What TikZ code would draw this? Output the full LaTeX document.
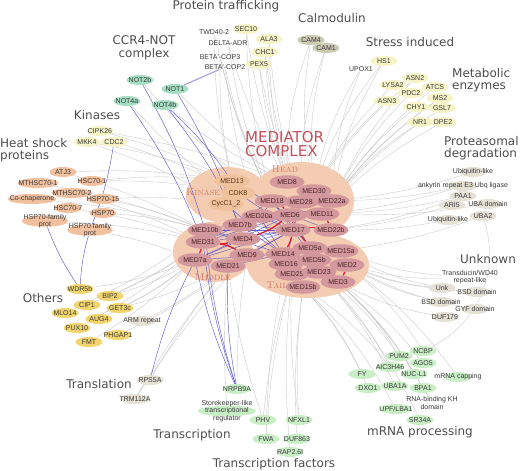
\documentclass[tikz,border=0pt]{standalone}
\usepackage{fontspec}
\newfontfamily\libsans{Liberation Sans}
\newfontfamily\dejasans{DejaVu Sans}
\usepackage{tikz}
\usetikzlibrary{shapes.geometric,backgrounds}
\definecolor{trafyel}{HTML}{F6F3C6}
\definecolor{calmgray}{HTML}{CDCAB3}
\definecolor{ccrmint}{HTML}{A6DEC3}
\definecolor{hsppeach}{HTML}{F1C09F}
\definecolor{othgold}{HTML}{F2D46F}
\definecolor{miscbeige}{HTML}{E5E1D5}
\definecolor{rnagreen}{HTML}{C9EEC6}
\definecolor{zonepeach}{HTML}{F4CCB1}
\definecolor{medrose}{HTML}{D3989D}
\definecolor{medtxt}{HTML}{4A2428}
\definecolor{kinpeach}{HTML}{EFC29C}
\definecolor{kintxt}{HTML}{5A3512}
\definecolor{ttlgray}{HTML}{4D4D4D}
\definecolor{medred}{HTML}{C4505C}
\definecolor{zonetxt}{HTML}{CF7A6A}
\definecolor{edgegray}{HTML}{C6C6C6}
\definecolor{bluelink}{HTML}{5C5CCF}
\definecolor{redlink}{HTML}{D91E3A}
\definecolor{paleblue}{HTML}{A9A3E3}
\definecolor{labeltxt}{HTML}{383838}
\newcommand{\lblfnt}{\libsans\fontsize{7pt}{7.6pt}\selectfont}
\newcommand{\wideovr}[1]{\makebox[22pt]{#1}}
\pgfdeclarelayer{zones}
\pgfdeclarelayer{links}
\pgfsetlayers{background,zones,links,main}
\tikzset{
  pn/.style={ellipse, inner xsep=-5pt, inner ysep=0pt, minimum width=27pt,
    minimum height=10pt, font=\lblfnt, text=labeltxt},
  traf/.style={pn, fill=trafyel},
  calm/.style={pn, fill=calmgray},
  ccr/.style={pn, fill=ccrmint},
  hsp/.style={pn, fill=hsppeach},
  oth/.style={pn, fill=othgold},
  misc/.style={pn, fill=miscbeige},
  rna/.style={pn, fill=rnagreen},
  bare/.style={inner sep=0pt, font=\lblfnt, text=labeltxt, align=center},
  med/.style={ellipse, inner xsep=-4pt, inner ysep=0pt, minimum width=35pt,
    minimum height=13.5pt, fill=medrose, font=\lblfnt, text=medtxt},
  kin/.style={med, fill=kinpeach, text=kintxt},
  zone/.style={ellipse, fill=zonepeach, inner sep=0pt},
  zlbl/.style={font=\fontsize{10pt}{11pt}\selectfont\scshape, text=zonetxt},
  ttl/.style={font=\dejasans\fontsize{12pt}{12.5pt}\selectfont, text=ttlgray,
    inner sep=0pt},
  mtl/.style={font=\dejasans\fontsize{15pt}{14pt}\selectfont, text=medred,
    inner sep=0pt},
  gedge/.style={draw=edgegray, line width=0.35pt},
  bedge/.style={draw=bluelink, line width=0.45pt},
  redge/.style={draw=redlink, line width=1.3pt},
}

\begin{document}
\begin{tikzpicture}[x=1pt, y=1pt]
\useasboundingbox (0,0) rectangle (520,-471);
% group titles
\node[ttl] (tptraf) at (226,-6) {Protein trafficking};
\node[ttl] (tcalm) at (332,-18) {Calmodulin};
\node[ttl, align=center] (tccr) at (144,-48) {CCR4-NOT\\complex};
\node[ttl] (tstress) at (410,-42) {Stress induced};
\node[ttl, align=left, anchor=west] (tmeta) at (452,-80) {Metabolic\\enzymes};
\node[ttl] (tkin) at (97,-115) {Kinases};
\node[ttl, align=left, anchor=west] (thsp) at (0,-150) {Heat shock\\proteins};
\node[ttl, align=left, anchor=west] (tprot) at (444,-148) {Proteasomal\\degradation};
\node[ttl] (toth) at (43,-298) {Others};
\node[ttl] (tunk) at (488,-259) {Unknown};
\node[ttl] (ttrl) at (99,-384) {Translation};
\node[ttl] (ttrc) at (192,-435) {Transcription};
\node[ttl] (ttf) at (274,-464) {Transcription factors};
\node[ttl] (trna) at (420,-432) {mRNA processing};
\node[mtl, align=left, anchor=west] (tmed) at (245,-144) {MEDIATOR\\COMPLEX};
% complex zones
\begin{pgfonlayer}{zones}
\node[zone, minimum width=82pt, minimum height=56pt] (kinz) at (227,-195) {};
\node[zone, minimum width=104pt, minimum height=78pt] (headz) at (302,-201) {};
\node[zone, minimum width=80pt, minimum height=60pt] (midz) at (213,-252) {};
\node[zone, minimum width=122pt, minimum height=66pt] (tailz) at (308,-265) {};
\end{pgfonlayer}
\node[zlbl] (kinl) at (203,-192) {Kinase};
\node[zlbl] (headl) at (285,-169) {Head};
\node[zlbl] (midl) at (213,-277) {Middle};
\node[zlbl] (taill) at (277,-285) {Tail};
% mediator subunits
\node[kin] (med13) at (232,-181) {MED13};
\node[kin] (cdk8) at (238,-193) {CDK8};
\node[kin] (cycc) at (226,-204) {CycC1\_2};
\node[med] (med8) at (287,-182) {MED8};
\node[med] (med30) at (314,-191) {MED30};
\node[med] (med18) at (272,-201) {MED18};
\node[med] (med28) at (301,-202) {MED28};
\node[med] (med22a) at (332,-201) {MED22a};
\node[med] (med20a) at (259,-216) {MED20a};
\node[med] (med6) at (290,-215) {MED6};
\node[med] (med11) at (322,-214) {MED11};
\node[med] (med7b) at (240,-225) {MED7b};
\node[med] (med10b) at (205,-230) {MED10b};
\node[med] (med17) at (293,-230) {MED17};
\node[med] (med22b) at (331,-230) {MED22b};
\node[med] (med31) at (203,-242) {MED31};
\node[med] (med4) at (243,-239) {MED4};
\node[med] (med5a) at (310,-248) {MED5a};
\node[med] (med15a) at (341,-251) {MED15a};
\node[med] (med14) at (283,-254) {MED14};
\node[med] (med9) at (247,-255) {MED9};
\node[med] (med7a) at (195,-260) {MED7a};
\node[med] (med21) at (228,-266) {MED21};
\node[med] (med16) at (286,-264) {MED16};
\node[med] (med5b) at (314,-260) {MED5b};
\node[med] (med2) at (347,-265) {MED2};
\node[med] (med25) at (292,-274) {MED25};
\node[med] (med23) at (319,-272) {MED23};
\node[med] (med3) at (338,-282) {MED3};
\node[med] (med15b) at (303,-287) {MED15b};
% protein trafficking
\node[bare] (twd) at (214,-32) {TWD40-2};
\node[traf] (sec) at (246,-29) {SEC10};
\node[traf] (ala) at (269,-39) {ALA3};
\node[bare] (delta) at (228,-43) {DELTA-ADR};
\node[traf] (chc) at (265,-52) {CHC1};
\node[bare] (cop3) at (220,-57) {BETA\textquotesingle-COP3};
\node[traf] (pex) at (259,-64) {PEX5};
\node[bare] (cop2) at (225,-67) {BETA\textquotesingle-COP2};
% calmodulin
\node[calm] (cam4) at (311,-40) {CAM4};
\node[calm] (cam1) at (326,-48) {CAM1};
% ccr4-not
\node[ccr] (not2b) at (140,-80) {NOT2b};
\node[ccr] (not1) at (175,-89) {NOT1};
\node[ccr] (not4a) at (127,-101) {NOT4a};
\node[ccr] (not4b) at (165,-105) {NOT4b};
% stress induced
\node[traf] (hs1) at (384,-61) {HS1};
\node[bare] (upox) at (361,-69) {UPOX1};
% metabolic enzymes
\node[traf] (asn2) at (415,-78) {ASN2};
\node[traf] (lysa) at (393,-85) {LYSA2};
\node[traf] (atcs) at (435,-87) {ATCS};
\node[traf] (pdc) at (411,-93) {PDC2};
\node[traf] (ms2) at (440,-98) {MS2};
\node[traf] (asn3) at (387,-101) {ASN3};
\node[traf] (chy) at (416,-107) {CHY1};
\node[traf] (gsl) at (442,-108) {GSL7};
\node[traf] (nr1) at (420,-122) {NR1};
\node[traf] (dpe) at (443,-122) {DPE2};
% kinases
\node[traf] (cipk) at (100,-131) {CIPK26};
\node[traf] (mkk) at (87,-142) {MKK4};
\node[traf] (cdc) at (114,-142) {CDC2};
% heat shock proteins
\node[hsp] (atj) at (63,-172) {ATJ3};
\node[hsp] (mths1) at (38,-183) {MTHSC70-1};
\node[hsp] (hsc1) at (92,-181) {HSC70-1};
\node[hsp] (mths2) at (72,-193) {MTHSC70-2};
\node[hsp] (cochap) at (32,-199) {Co-chaperone};
\node[hsp] (hsp15) at (103,-199) {HSP70-15};
\node[hsp] (hsc7) at (68,-208) {HSC70-7};
\node[hsp] (hsp70) at (103,-213) {HSP70};
\node[hsp, align=center, inner ysep=-3pt] (hspfa) at (45,-221) {HSP70-family\\prot};
\node[hsp, align=center, inner ysep=-3pt] (hspfb) at (90,-230) {HSP70 family\\prot};
% others
\node[oth] (wdr) at (80,-289) {WDR5b};
\node[oth] (bip) at (110,-296) {BIP2};
\node[oth] (cip) at (87,-305) {CIP1};
\node[oth] (get) at (120,-308) {GET3c};
\node[oth] (mlo) at (65,-313) {MLO14};
\node[oth] (aug) at (99,-319) {AUG4};
\node[misc] (arm) at (142,-321) {\wideovr{ARM repeat}};
\node[oth] (pux) at (77,-328) {PUX10};
\node[oth] (phgap) at (118,-335) {PHGAP1};
\node[oth] (fmt) at (89,-342) {FMT};
% translation
\node[misc] (rps) at (150,-380) {RPS5A};
\node[misc] (trm) at (135,-399) {TRM112A};
% transcription
\node[rna] (nrpb) at (237,-389) {NRPB9A};
\node[rna, align=center, inner ysep=-7pt] (skl) at (227,-411) {Storekeeper-like\\transcriptional\\regulator};
% transcription factors
\node[rna] (phv) at (263,-420) {PHV};
\node[rna] (nfxl) at (299,-420) {NFXL1};
\node[rna] (fwa) at (266,-439) {FWA};
\node[rna] (duf863) at (297,-439) {DUF863};
\node[rna] (rap) at (290,-452) {RAP2.6l};
% mrna processing
\node[rna] (ncbp) at (423,-351) {NCBP};
\node[rna] (pum) at (399,-356) {PUM2};
\node[rna] (ago) at (423,-363) {AGO5};
\node[rna] (aic) at (390,-367) {AIC3H46};
\node[rna] (fy) at (362,-374) {FY};
\node[rna] (nuc) at (414,-374) {NUC-L1};
\node[rna] (cap) at (458,-377) {\wideovr{mRNA capping}};
\node[rna] (dxo) at (368,-388) {DXO1};
\node[rna] (uba1a) at (395,-386) {UBA1A};
\node[rna] (bpa) at (423,-388) {BPA1};
\node[bare] (kh) at (432,-403) {RNA-binding KH\\domain};
\node[rna] (upf) at (396,-409) {UPF/LBA1};
\node[rna] (sr34) at (420,-420) {SR34A};
% unknown
\node[bare] (tdwd) at (470,-277) {Transducin/WD40\\repeat-like};
\node[misc] (unk) at (442,-288) {Unk};
\node[misc] (bsd1) at (477,-292) {\wideovr{BSD domain}};
\node[misc] (bsd2) at (441,-302) {\wideovr{BSD domain}};
\node[misc] (gyf) at (475,-309) {\wideovr{GYF domain}};
\node[misc] (duf179) at (445,-317) {DUF179};
% proteasomal degradation
\node[misc] (ubl1) at (473,-172) {\wideovr{Ubiquitin-like}};
\node[misc] (ank) at (463,-186) {\wideovr{ankyrin repeat E3 Ubq ligase}};
\node[misc] (paa) at (463,-196) {PAA1};
\node[misc] (ari) at (452,-205) {ARI5};
\node[misc] (ubad) at (488,-204) {\wideovr{UBA domain}};
\node[misc] (ubl2) at (448,-220) {\wideovr{Ubiquitin-like}};
\node[misc] (uba2) at (483,-216) {UBA2};
% grey interactions
\begin{pgfonlayer}{background}
\foreach \a/\b in {twd/med18, twd/med13, sec/med8, sec/med18, ala/med28, ala/med8,
    delta/med18, delta/med8, chc/med8, chc/med28, cop3/med13, cop3/med18,
    pex/med28, pex/med8, cop2/med18, cop2/med20a}
  \draw[gedge] (\a) to[bend right=6] (\b);
\foreach \a/\b in {cam4/med8, cam4/med30, cam1/med30, cam1/med28, hs1/med30,
    hs1/med22a, upox/med22a, upox/med30}
  \draw[gedge] (\a) to[bend right=10] (\b);
\foreach \a/\b in {asn2/med22a, lysa/med30, atcs/med22a, pdc/med22a, ms2/med11,
    asn3/med30, chy/med22a, gsl/med11, nr1/med22a, dpe/med11, asn2/med30, ms2/med22a}
  \draw[gedge] (\a) to[bend right=8] (\b);
\foreach \a/\b in {ubl1/med22a, ank/med11, paa/med22b, ari/med22b, ubad/med11,
    ubl2/med22b, uba2/med15a, ank/med22a, paa/med11}
  \draw[gedge] (\a) to[bend left=5] (\b);
\draw[gedge] (uba2) to[bend left=40] (ncbp);
\foreach \a/\b in {tdwd/med15a, unk/med15a, bsd1/med2, bsd2/med2, gyf/med2,
    duf179/med3, unk/med2, tdwd/med2}
  \draw[gedge] (\a) to[bend left=8] (\b);
\foreach \a/\b in {ncbp/med2, pum/med3, ago/med3, aic/med23, fy/med15b, nuc/med3,
    cap/med2, dxo/med15b, uba1a/med23, bpa/med3, kh/med3, upf/med15b, sr34/med23,
    pum/med23, aic/med15b}
  \draw[gedge] (\a) to[bend right=8] (\b);
\foreach \a/\b in {phv/med25, nfxl/med15b, fwa/med16, duf863/med15b, rap/med25,
    phv/med21, nfxl/med25, fwa/med25}
  \draw[gedge] (\a) to[bend left=5] (\b);
\foreach \a/\b in {skl/med21, rps/med21, trm/med9, trm/med21, nrpb/med9}
  \draw[gedge] (\a) to[bend left=4] (\b);
\foreach \a/\b in {wdr/med7a, bip/med7a, cip/med31, get/med7a, mlo/med10b,
    aug/med7a, arm/med21, pux/med31, phgap/med9, fmt/med7a, bip/med31, get/med21}
  \draw[gedge] (\a) to[bend right=6] (\b);
\foreach \a/\b in {atj/med10b, mths1/med10b, hsc1/cdk8, mths2/med31, cochap/med10b,
    hsp15/med10b, hsc7/med31, hsp70/med10b, hspfa/med31, hspfb/med7a, hsc1/med13,
    hsp15/cycc, atj/med13, cipk/med13, mkk/cycc, cdc/cdk8, cipk/med8, mkk/med13}
  \draw[gedge] (\a) to[bend left=5] (\b);
\foreach \a/\b in {not1/med8, not2b/med18, not4a/med20a, not4b/med8}
  \draw[gedge] (\a) to[bend right=6] (\b);
\end{pgfonlayer}
% blue and red interactions
\begin{pgfonlayer}{links}
\draw[draw=paleblue, line width=1.2pt] (not1) -- (cop2);
\foreach \a/\b in {not4b/med13, not4a/med31, not2b/med10b, not4b/med7b, not1/med4,
    cdc/hspfb, wdr/hspfa, wdr/hspfb, nrpb/med7a, nrpb/med31, nrpb/med10b,
    nrpb/med21, rps/med7a}
  \draw[bedge] (\a) to[bend left=6] (\b);
\foreach \a/\b in {med10b/med17, med10b/med6, med31/med17, med31/med6, med31/med18,
    med7a/med14, med7a/med17, med7a/med6, med4/med20a, med4/med18, med4/med17,
    med9/med17, med9/med14, med21/med14, med21/med17, med7b/med14, med7b/med6,
    med20a/med14, med20a/med17, med18/med17, med18/med5a, med6/med5a, med17/med5b,
    med14/med23, med17/med16, med6/med22b, med28/med17, med10b/med4, med31/med20a,
    med7a/med4, med13/med6, cdk8/med17, cycc/med14, med10b/med14, med7b/med17}
  \draw[bedge] (\a) -- (\b);
\foreach \a/\b in {med18/med6, med20a/med6, med6/med11, med11/med22b, med17/med22b,
    med6/med17, med17/med14, med6/med4, med4/med31, med31/med7a, med31/med9,
    med15a/med2, med2/med3, med17/med5a}
  \draw[redge] (\a) to[bend left=10] (\b);
\end{pgfonlayer}
\end{tikzpicture}
\end{document}
